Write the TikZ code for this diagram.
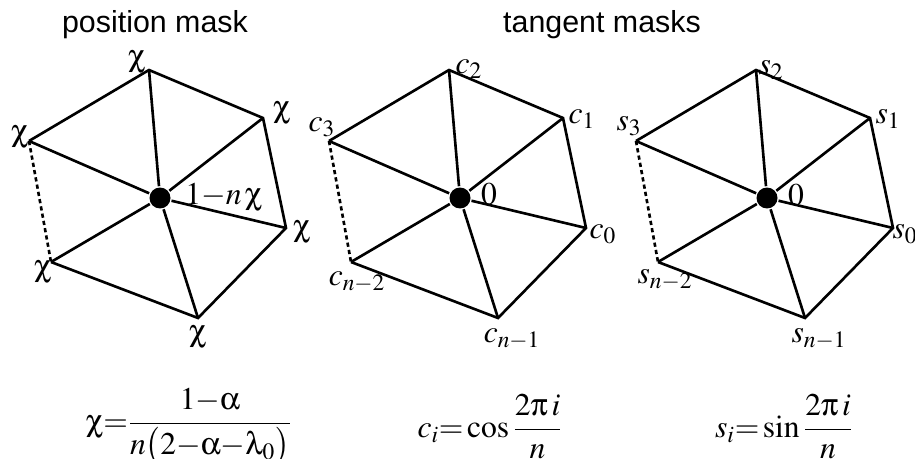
\documentclass[tikz,border=0pt]{standalone}
\usepackage{mathptmx}
\usepackage[Symbol]{upgreek}
\usepackage[no-math]{fontspec}
\setsansfont{Liberation Sans}
\usetikzlibrary{positioning}

\begin{document}
\begin{tikzpicture}[x=0.02cm,y=-0.02cm,line width=1.5pt,
 title/.style={font=\sffamily\fontsize{17.3}{20}\selectfont},
 lbl/.style={font=\fontsize{18}{21}\selectfont,inner sep=1pt},
 hub/.style={circle,fill,inner sep=0pt,minimum size=0.42cm},
 gap/.style={dash pattern=on 2.4pt off 1.8pt}]
\useasboundingbox (0,0) rectangle (915,459);
\node[title] (tpos) at (155,25) {position mask};
\node[title] (ttan) at (602,25) {tangent masks};
% three fans, same shape
\foreach \h/\dx in {pos/0,cos/300,sin/607}{
 \begin{scope}[shift={(\dx,0)}]
 \coordinate (\h-0) at (286,228);
 \coordinate (\h-1) at (263,118);
 \coordinate (\h-2) at (149,70);
 \coordinate (\h-3) at (29,141);
 \coordinate (\h-4) at (51,262);
 \coordinate (\h-5) at (198,318);
 \node[hub] (\h-c) at (160,198) {};
 \end{scope}
 \foreach \i in {0,...,5}{\draw (\h-c) -- (\h-\i);}
 \draw (\h-3) -- (\h-2) -- (\h-1) -- (\h-0) -- (\h-5) -- (\h-4);
 \draw[gap] (\h-3) -- (\h-4);
}
% weights
\foreach \p [count=\k] in {(302,232),(282,113),(137,62),(20,137),(43,272),(198,337)}{\node[lbl] (lx\k) at \p {$\upchi$};}
\node[lbl] (lxc) at (224,198) {$1{-}n\,\upchi$};
\node[lbl] (lc0) at (603,234) {$c_0$};
\node[lbl] (lc1) at (582,119) {$c_1$};
\node[lbl] (lc2) at (469,69) {$c_2$};
\node[lbl] (lc3) at (322,127) {$c_3$};
\node[lbl] (lc4) at (357,282) {$c_{n-2}$};
\node[lbl] (lc5) at (512,339) {$c_{n-1}$};
\node[lbl] (lcc) at (489,194) {$0$};
\node[lbl] (ls0) at (905,234) {$s_0$};
\node[lbl] (ls1) at (888,119) {$s_1$};
\node[lbl] (ls2) at (771,70) {$s_2$};
\node[lbl] (ls3) at (629,126) {$s_3$};
\node[lbl] (ls4) at (665,280) {$s_{n-2}$};
\node[lbl] (ls5) at (819,339) {$s_{n-1}$};
\node[lbl] (lsc) at (796,195) {$0$};
% formulas
\node[lbl] (fx) at (189,427) {$\displaystyle\upchi{=}\frac{1{-}\upalpha}{n\bigl(2{-}\upalpha{-}\uplambda_0\bigr)}$};
\node[lbl] (fc) at (490,427) {$\displaystyle c_i{=}\cos\frac{2\uppi\, i}{n}$};
\node[lbl] (fs) at (784,427) {$\displaystyle s_i{=}\sin\frac{2\uppi\, i}{n}$};
\end{tikzpicture}
\end{document}
